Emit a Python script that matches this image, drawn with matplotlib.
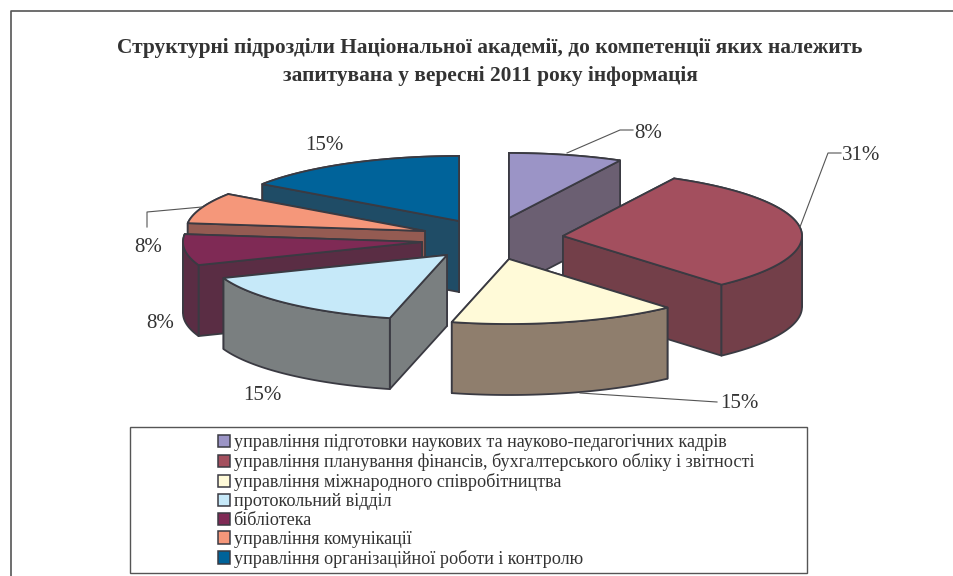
import numpy as np
import matplotlib
matplotlib.use('Agg')
import matplotlib.pyplot as plt
from matplotlib.patches import Polygon, Rectangle, Patch

plt.rcParams['font.family'] = ['Liberation Serif', 'DejaVu Serif']

title = ('Структурні підрозділи Національної академії, до компетенції яких належить\n'
         'запитувана у вересні 2011 року інформація')
categories = ['управління підготовки наукових та науково-педагогічних кадрів',
              'управління планування фінансів, бухгалтерського обліку і звітності',
              'управління міжнародного співробітництва',
              'протокольний відділ',
              'бібліотека',
              'управління комунікації',
              'управління організаційної роботи і контролю']
counts = [1, 4, 2, 2, 1, 1, 2]
top_colors = ['#9B94C6', '#A34F5E', '#FFFAD8', '#C6E9F9', '#7F2A55', '#F5977A', '#00639A']
side_colors = ['#6B5F72', '#733F49', '#8F7E6D', '#7A7F80', '#5A2D44', '#945B52', '#1F4C66']

# apex of each exploded slice, in pixels
apex_x = [509, 563, 509, 447, 422, 425, 459]
apex_y = [218, 236, 259, 255, 242, 231, 221]
draw_order = [6, 0, 5, 4, 1, 3, 2]

rx, ry, depth = 239, 65, 71
edge = '#3A3A42'

fig = plt.figure(figsize=(9.54, 5.76), dpi=100)
ax = fig.add_axes([0, 0, 1, 1])
ax.set_xlim(0, 954)
ax.set_ylim(576, 0)
ax.axis('off')

# page frame: only left and top sides are in the crop
ax.plot([11, 11, 954], [576, 11, 11], color='#555555', lw=1.2)

ax.text(490, 62, title, ha='center', va='center', fontsize=15.4, fontweight='bold',
        color='#333333', linespacing=1.5)


def wall(xs, ys, color, order):
    xs = np.asarray(xs)
    ys = np.asarray(ys)
    px = np.r_[xs, xs[::-1]]
    py = np.r_[ys, ys[::-1] + depth]
    ax.add_patch(Polygon(np.c_[px, py], closed=True, fc=color, ec=edge, lw=1.3,
                         joinstyle='round', zorder=order))


shares = np.array(counts) / sum(counts)
ends = np.cumsum(shares) * 2 * np.pi
starts = np.r_[0, ends[:-1]]

for z, i in enumerate(draw_order):
    t = np.linspace(starts[i], ends[i], 80)
    x = apex_x[i] + rx * np.sin(t)
    y = apex_y[i] - ry * np.cos(t)
    base = z * 10
    walls = [([apex_x[i], x[0]], [apex_y[i], y[0]]),
             ([apex_x[i], x[-1]], [apex_y[i], y[-1]])]
    # arc must be cut where it folds, or the band fills with a hole
    cuts = [starts[i]] + [a for a in (np.pi / 2, 3 * np.pi / 2) if starts[i] < a < ends[i]] + [ends[i]]
    for a, b in zip(cuts[:-1], cuts[1:]):
        ta = np.linspace(a, b, 60)
        walls.append((apex_x[i] + rx * np.sin(ta), apex_y[i] - ry * np.cos(ta)))
    walls.sort(key=lambda w: np.mean(w[1]))
    for k, w in enumerate(walls):
        wall(w[0], w[1], side_colors[i], base + k)
    ax.add_patch(Polygon(np.c_[np.r_[apex_x[i], x], np.r_[apex_y[i], y]], closed=True,
                         fc=top_colors[i], ec=edge, lw=1.3, joinstyle='round', zorder=base + 5))

# percentage labels come from the counts
pct = ['%d%%' % round(s * 100) for s in shares]
label_x = [648, 861, 739, 262, 160, 148, 324]
label_y = [133, 155, 403, 396, 324, 248, 146]
for i in range(len(pct)):
    ax.text(label_x[i], label_y[i], pct[i], ha='center', va='center', fontsize=15,
            color='#333333', zorder=200)

leader_color = '#555555'
ax.plot([567, 620, 633], [153, 130, 130], color=leader_color, lw=0.8, zorder=150)
ax.plot([800, 828, 841], [227, 153, 153], color=leader_color, lw=0.8, zorder=150)
ax.plot([580, 717], [393, 402], color=leader_color, lw=0.8, zorder=150)
ax.plot([202, 147, 147], [207, 212, 227], color=leader_color, lw=0.8, zorder=150)

# legend box is wider than its entries, so the frame is separate
ax.add_patch(Rectangle((130, 427), 677, 146, fc='white', ec='#555555', lw=1, zorder=190))
handles = [Patch(fc=c, ec=edge, lw=1.1) for c in top_colors]
leg = ax.legend(handles, categories, loc='upper left', bbox_to_anchor=(218 / 954, 1 - 434 / 576),
                frameon=False, fontsize=13.05, labelcolor='#333333', handlelength=0.66,
                handleheight=0.66, handletextpad=0.2, labelspacing=0.11, borderaxespad=0,
                borderpad=0)
leg.set_zorder(200)

plt.savefig('out.png', dpi=100)
